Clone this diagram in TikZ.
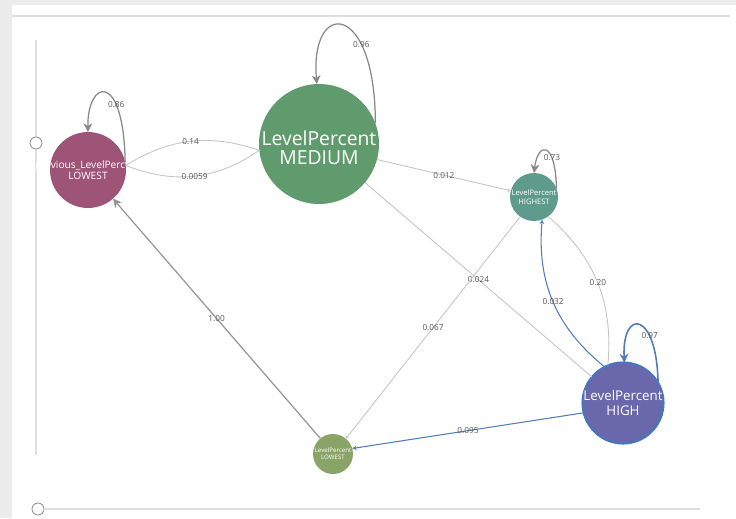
\documentclass[tikz,border=0pt]{standalone}
\usepackage{fontspec}
\setmainfont{Open Sans}
\usetikzlibrary{arrows.meta}
\definecolor{framegrey}{RGB}{236,236,236}
\definecolor{slidergrey}{RGB}{222,222,222}
\definecolor{knobgrey}{RGB}{150,150,150}
\definecolor{edgegrey}{RGB}{196,196,196}
\definecolor{darkedge}{RGB}{150,150,150}
\definecolor{loopgrey}{RGB}{135,135,135}
\definecolor{edgeblue}{RGB}{80,125,185}
\definecolor{labelgrey}{RGB}{85,85,85}
\definecolor{plmaroon}{RGB}{158,84,118}
\definecolor{medgreen}{RGB}{95,155,108}
\definecolor{hstteal}{RGB}{95,155,140}
\definecolor{hipurple}{RGB}{106,104,170}
\definecolor{hiborder}{RGB}{72,118,190}
\definecolor{logreen}{RGB}{138,164,104}
\begin{document}
\begin{tikzpicture}[x=0.02cm,y=0.02cm]
\tikzstyle{state} = [circle, inner sep=0pt, outer sep=0pt]
\tikzstyle{nodetext} = [text=white, align=center, inner sep=0pt]
\tikzstyle{weight} = [text=labelgrey, font=\fontsize{4.7}{5}\selectfont, inner sep=1pt]
\tikzstyle{selfloop} = [draw=loopgrey, line width=0.7pt, -{Stealth[length=5pt,width=5pt]}]
\tikzstyle{arrow} = [draw=edgegrey, line width=0.5pt, -{Stealth[length=2pt,width=2pt]}]
\tikzstyle{bigarrow} = [draw=darkedge, line width=0.7pt, -{Stealth[length=5pt,width=5pt]}]
\tikzstyle{noarrow} = [draw=edgegrey, line width=0.5pt]
\tikzstyle{bluearrow} = [draw=edgeblue, line width=0.6pt, -{Stealth[length=2.5pt,width=2.5pt]}]
\tikzstyle{blueloop} = [draw=edgeblue, line width=0.9pt, -{Stealth[length=5pt,width=5pt]}]

%frame and sliders
\useasboundingbox (0,0) rectangle (736,518);
\fill[framegrey] (0,0) rectangle (12,518);
\fill[framegrey] (0,513) rectangle (736,518);
\draw[slidergrey, line width=0.6pt] (12,502) -- (730,502);
\draw[slidergrey, line width=0.8pt] (36,478) -- (36,63);
\draw[slidergrey, line width=0.8pt] (45,9) -- (700,9);
\draw[knobgrey, fill=white, line width=0.5pt] (36,375) circle (6);
\draw[knobgrey, fill=white, line width=0.5pt] (38,9) circle (6);

%nodes
\node (pl) [state, fill=plmaroon, minimum size=1.52cm,
  label={[nodetext, font=\fontsize{5.8}{6.5}\selectfont]center:previous\_LevelPercent\\LOWEST}] at (88,348) {};
\node (med) [state, fill=medgreen, minimum size=2.4cm,
  label={[nodetext, font=\fontsize{11}{11}\selectfont, yshift=-2pt]center:LevelPercent\\MEDIUM}] at (319,374) {};
\node (hst) [state, fill=hstteal, minimum size=0.96cm,
  label={[nodetext, font=\fontsize{4.3}{4.8}\selectfont]center:LevelPercent\\HIGHEST}] at (534,321) {};
\node (hi) [state, fill=hipurple, draw=hiborder, line width=1.2pt, minimum size=1.62cm,
  label={[nodetext, font=\fontsize{7.6}{8}\selectfont]center:LevelPercent\\HIGH}] at (623,115) {};
\node (lo) [state, fill=logreen, minimum size=0.8cm,
  label={[nodetext, font=\fontsize{3.5}{4}\selectfont]center:LevelPercent\\LOWEST}] at (333,64) {};

%loops
\draw[selfloop] (pl.12) to[out=91, in=91, out distance=1.86cm, in distance=1.04cm] node[weight, pos=0.3] {0.86} (pl.90);
\draw[selfloop] (med.20) to[out=90, in=95, out distance=2.48cm, in distance=1.7cm] node[weight, pos=0.3] {0.96} (med.92);
\draw[selfloop] (hst.21) to[out=91, in=83, out distance=0.96cm, in distance=0.64cm] node[weight, pos=0.3] {0.73} (hst.90);
\draw[blueloop] (hi.30) to[out=91, in=93, out distance=1.46cm, in distance=1.08cm] node[weight, pos=0.3] {0.97} (hi.88);

%arrows
\draw[noarrow] (pl.7) to[bend left=25] node[weight] {0.14} (med.186);
\draw[noarrow] (pl.7) to[bend right=28] node[weight] {0.0059} (med.186);
\draw[arrow] (med.-15) -- node[weight] {0.012} (hst.165);
\draw[noarrow] (med.-40) -- node[weight] {0.024} (hi.140);
\draw[arrow] (hst.235) -- node[weight] {0.067} (lo.50);
\draw[bluearrow] (hi.117) to[bend left=28] node[weight] {0.032} (hst.-70);
\draw[noarrow] (hst.-54) to[bend left=27] node[weight] {0.20} (hi.112);
\draw[bluearrow] (hi.194) -- node[weight] {0.095} (lo.16);
\draw[bigarrow] (lo.129) -- node[weight] {1.00} (pl.-49);
\end{tikzpicture}
\end{document}
